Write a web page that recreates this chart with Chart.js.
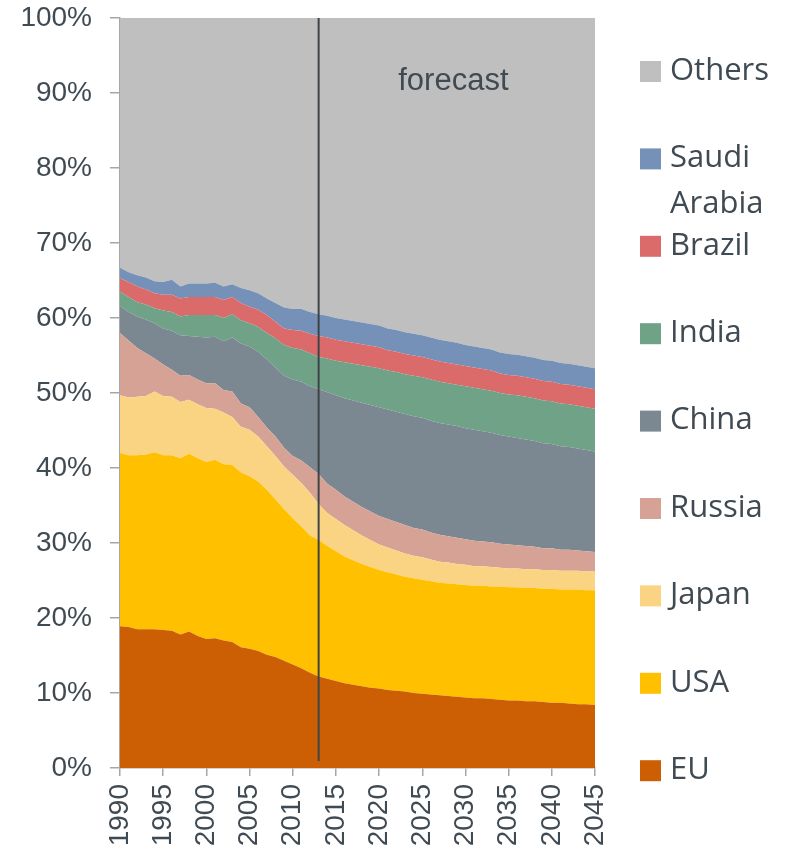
<!DOCTYPE html>
<html>
<head>
<meta charset="utf-8">
<script src="https://cdn.jsdelivr.net/npm/chart.js@4.4.1/dist/chart.umd.min.js"></script>
<style>
  body { margin: 0; background: #fff; }
  canvas { display: block; }
</style>
</head>
<body>
<canvas id="chart" width="789" height="853"></canvas>
<script>
const years = [1990, 1991, 1992, 1993, 1994, 1995, 1996, 1997, 1998, 1999,
  2000, 2001, 2002, 2003, 2004, 2005, 2006, 2007, 2008, 2009,
  2010, 2011, 2012, 2013, 2014, 2015, 2016, 2017, 2018, 2019,
  2020, 2021, 2022, 2023, 2024, 2025, 2026, 2027, 2028, 2029,
  2030, 2031, 2032, 2033, 2034, 2035, 2036, 2037, 2038, 2039,
  2040, 2041, 2042, 2043, 2044, 2045];

// shares in % per year
const eu = [18.9, 18.8, 18.5, 18.5, 18.5, 18.4, 18.3, 17.8, 18.2, 17.6,
  17.2, 17.3, 17.0, 16.8, 16.1, 15.9, 15.6, 15.1, 14.8, 14.3,
  13.8, 13.3, 12.7, 12.2, 11.9, 11.6, 11.3, 11.1, 10.9, 10.7,
  10.6, 10.4, 10.3, 10.2, 10.0, 9.9, 9.8, 9.7, 9.6, 9.5,
  9.4, 9.3, 9.3, 9.2, 9.1, 9.0, 9.0, 8.9, 8.9, 8.8,
  8.7, 8.7, 8.6, 8.5, 8.5, 8.4];
const usa = [23.1, 22.9, 23.2, 23.3, 23.6, 23.3, 23.4, 23.5, 23.7, 23.7,
  23.6, 23.8, 23.5, 23.6, 23.3, 23.0, 22.6, 22.0, 21.0, 20.2,
  19.5, 18.9, 18.3, 18.2, 17.7, 17.3, 16.9, 16.6, 16.3, 16.1,
  15.8, 15.7, 15.5, 15.3, 15.3, 15.2, 15.1, 15.0, 15.0, 15.0,
  15.0, 15.0, 15.0, 15.0, 15.1, 15.1, 15.1, 15.1, 15.1, 15.1,
  15.2, 15.1, 15.2, 15.3, 15.2, 15.3];
const japan = [7.7, 7.7, 7.8, 7.8, 8.1, 7.9, 7.8, 7.5, 7.2, 7.2,
  7.2, 6.8, 6.9, 6.4, 6.1, 6.2, 6.0, 5.8, 5.8, 5.7,
  5.8, 5.8, 5.7, 4.8, 4.4, 4.3, 4.2, 4.0, 3.8, 3.6,
  3.4, 3.3, 3.2, 3.1, 3.0, 3.0, 2.9, 2.8, 2.8, 2.7,
  2.7, 2.6, 2.6, 2.6, 2.5, 2.5, 2.5, 2.5, 2.5, 2.5,
  2.5, 2.5, 2.5, 2.5, 2.5, 2.5];
const russia = [8.3, 7.6, 6.5, 5.7, 4.4, 4.2, 3.6, 3.5, 3.3, 3.3,
  3.3, 3.4, 3.0, 3.4, 3.1, 3.0, 2.6, 2.5, 2.6, 2.5,
  2.5, 3.0, 3.4, 4.0, 3.9, 3.9, 3.8, 3.8, 3.8, 3.8,
  3.8, 3.8, 3.8, 3.8, 3.7, 3.7, 3.6, 3.6, 3.5, 3.5,
  3.4, 3.4, 3.3, 3.3, 3.2, 3.2, 3.1, 3.1, 3.0, 2.9,
  2.9, 2.8, 2.8, 2.7, 2.7, 2.6];
const china = [3.6, 3.8, 4.2, 4.5, 4.7, 4.8, 5.2, 5.4, 5.2, 5.7,
  6.1, 6.2, 6.5, 7.2, 8.0, 8.1, 8.7, 9.1, 9.2, 9.6,
  10.2, 10.5, 10.8, 11.3, 12.2, 12.6, 13.1, 13.5, 13.9, 14.2,
  14.5, 14.6, 14.7, 14.8, 14.9, 14.9, 14.9, 14.9, 14.9, 14.9,
  14.8, 14.8, 14.7, 14.6, 14.5, 14.4, 14.3, 14.2, 14.1, 14.0,
  13.9, 13.8, 13.7, 13.6, 13.5, 13.4];
const india = [1.9, 2.0, 1.9, 2.0, 2.0, 2.4, 2.5, 2.5, 2.8, 2.9,
  3.0, 2.9, 3.1, 3.1, 3.1, 3.1, 3.3, 3.5, 3.9, 4.1,
  4.2, 4.3, 4.4, 4.3, 4.5, 4.6, 4.8, 4.9, 5.0, 5.1,
  5.2, 5.2, 5.3, 5.3, 5.4, 5.4, 5.5, 5.5, 5.5, 5.5,
  5.6, 5.6, 5.6, 5.6, 5.6, 5.6, 5.7, 5.7, 5.7, 5.7,
  5.7, 5.7, 5.7, 5.7, 5.7, 5.7];
const brazil = [1.8, 2.0, 2.1, 2.0, 2.0, 2.1, 2.3, 2.4, 2.4, 2.4,
  2.4, 2.4, 2.4, 2.3, 2.3, 2.2, 2.3, 2.4, 2.2, 2.2,
  2.4, 2.5, 2.6, 2.8, 2.8, 2.8, 2.8, 2.8, 2.8, 2.8,
  2.8, 2.7, 2.7, 2.7, 2.7, 2.7, 2.7, 2.7, 2.7, 2.7,
  2.7, 2.7, 2.7, 2.7, 2.6, 2.6, 2.6, 2.6, 2.6, 2.6,
  2.6, 2.6, 2.6, 2.6, 2.6, 2.6];
const saudi = [1.4, 1.3, 1.5, 1.6, 1.6, 1.7, 2.0, 1.6, 1.8, 1.8,
  1.8, 1.9, 1.8, 1.7, 2.0, 2.2, 2.2, 2.2, 2.5, 2.8,
  2.8, 2.9, 2.9, 2.9, 2.9, 2.9, 2.9, 2.9, 2.9, 2.9,
  2.9, 2.9, 2.9, 2.9, 2.9, 2.9, 2.9, 2.9, 2.9, 2.9,
  2.8, 2.8, 2.8, 2.8, 2.8, 2.8, 2.8, 2.8, 2.8, 2.8,
  2.8, 2.8, 2.8, 2.8, 2.8, 2.8];
const others = [33.3, 33.9, 34.3, 34.6, 35.1, 35.2, 34.9, 35.8, 35.4, 35.4,
  35.4, 35.3, 35.8, 35.5, 36.0, 36.3, 36.7, 37.4, 38.0, 38.6,
  38.8, 38.8, 39.2, 39.5, 39.7, 40.0, 40.2, 40.4, 40.6, 40.8,
  41.0, 41.4, 41.6, 41.9, 42.1, 42.3, 42.6, 42.9, 43.1, 43.3,
  43.6, 43.8, 44.0, 44.2, 44.6, 44.8, 44.9, 45.1, 45.3, 45.6,
  45.7, 46.0, 46.1, 46.3, 46.5, 46.7];

const seriesNames = ['EU', 'USA', 'Japan', 'Russia', 'China', 'India', 'Brazil', 'Saudi Arabia', 'Others'];
const seriesData = [eu, usa, japan, russia, china, india, brazil, saudi, others];
const seriesColors = ['#cc5f04', '#ffc000', '#fad482', '#d5a295', '#7b8891', '#6fa287', '#db6b6b', '#7691b8', '#bfbfbf'];

const forecastYear = 2013;
const textColor = '#404a52';

const datasets = seriesNames.map((name, i) => ({
  label: name,
  data: years.map((x, j) => ({ x: x, y: seriesData[i][j] })),
  backgroundColor: seriesColors[i],
  borderWidth: 0,
  borderColor: 'rgba(0,0,0,0)',
  pointRadius: 0,
  tension: 0,
  fill: i === 0 ? 'origin' : '-1'
}));

const extras = {
  id: 'extras',
  afterDatasetsDraw(chart) {
    const ctx = chart.ctx;
    const x = chart.scales.x.getPixelForValue(forecastYear);
    const area = chart.chartArea;
    ctx.save();
    ctx.strokeStyle = '#3f4448';
    ctx.lineWidth = 2;
    ctx.beginPath();
    ctx.moveTo(x, area.top);
    ctx.lineTo(x, area.bottom - 7);
    ctx.stroke();

    ctx.fillStyle = textColor;
    ctx.font = '31px "Liberation Sans", Arial, sans-serif';
    ctx.textAlign = 'center';
    ctx.textBaseline = 'middle';
    ctx.fillText('forecast', chart.scales.x.getPixelForValue(2028.6), chart.scales.y.getPixelForValue(91.6));
    ctx.restore();
  },
  afterDraw(chart) {
    const ctx = chart.ctx;
    ctx.save();
    ctx.font = '31px "Open Sans", sans-serif';
    ctx.textBaseline = 'middle';
    ctx.textAlign = 'left';
    const n = seriesNames.length;
    for (let k = 0; k < n; k++) {
      const i = n - 1 - k;
      const cy = 71 + k * 87.4;
      ctx.fillStyle = seriesColors[i];
      ctx.fillRect(640, cy - 10, 21, 21);
      ctx.fillStyle = textColor;
      const parts = seriesNames[i] === 'Saudi Arabia' ? ['Saudi', 'Arabia'] : [seriesNames[i]];
      parts.forEach((t, li) => ctx.fillText(t, 670, cy + li * 46));
    }
    ctx.restore();
  }
};

new Chart(document.getElementById('chart'), {
  type: 'line',
  data: { datasets: datasets },
  options: {
    responsive: false,
    animation: false,
    layout: { padding: { top: 18, right: 194, bottom: 0, left: 0 } },
    plugins: {
      legend: { display: false },
      tooltip: { enabled: false },
      filler: { propagate: false }
    },
    scales: {
      x: {
        type: 'linear',
        min: 1990,
        max: 2045,
        afterFit(scale) {
          scale.height = 85;
          scale.paddingLeft = 0;
          scale.paddingRight = 0;
        },
        grid: { display: true, drawOnChartArea: false, tickLength: 8, color: '#a6a6a6', lineWidth: 1.5 },
        border: { display: true, color: '#a6a6a6', width: 1.5 },
        ticks: {
          stepSize: 5,
          autoSkip: false,
          minRotation: 90,
          maxRotation: 90,
          padding: 8,
          color: textColor,
          font: { family: '"Liberation Sans", Arial, sans-serif', size: 28 },
          callback: v => String(v)
        }
      },
      y: {
        stacked: true,
        min: 0,
        max: 100,
        afterFit(scale) {
          scale.width = 120;
          scale.paddingTop = 0;
          scale.paddingBottom = 0;
        },
        grid: { display: true, drawOnChartArea: false, tickLength: 10, color: '#a6a6a6', lineWidth: 1.5 },
        border: { display: true, color: '#a6a6a6', width: 1.5 },
        ticks: {
          stepSize: 10,
          padding: 18,
          color: textColor,
          font: { family: '"Liberation Sans", Arial, sans-serif', size: 28 },
          callback: v => v + '%'
        }
      }
    }
  },
  plugins: [extras]
});
</script>
</body>
</html>
